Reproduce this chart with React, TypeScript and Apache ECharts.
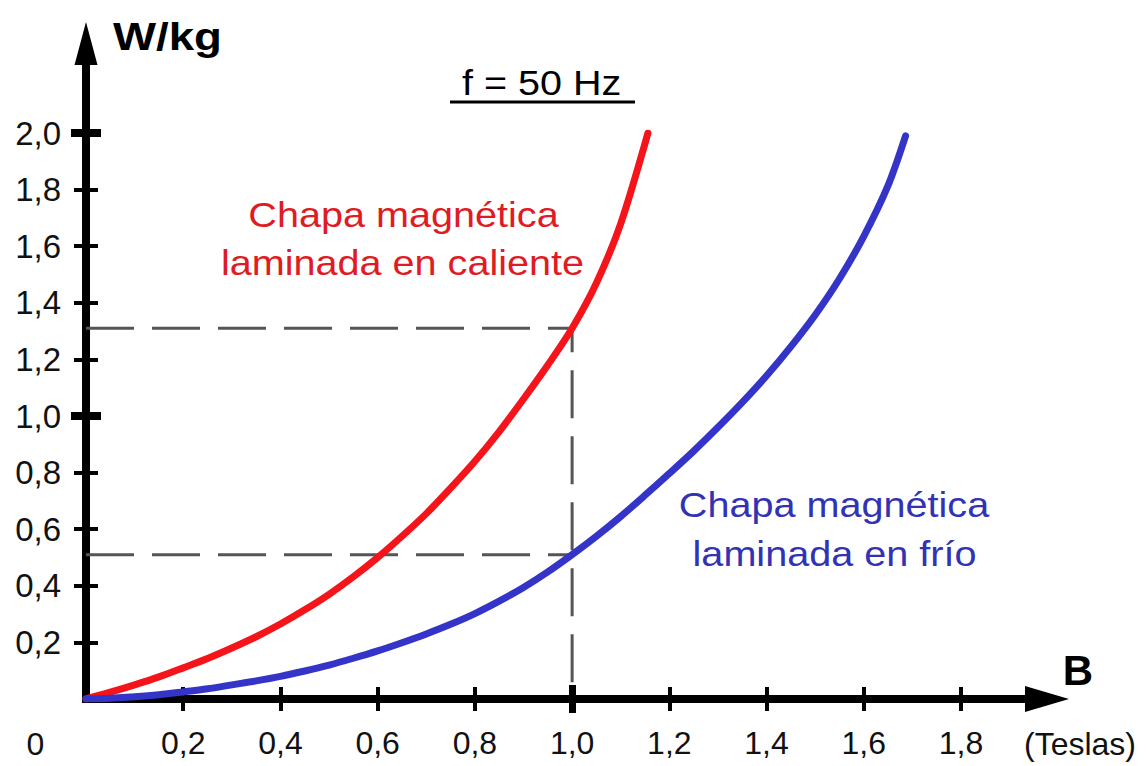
import React, { useEffect, useRef } from 'react';
import * as echarts from 'echarts';

// ---- data ----
const xTicks = [0.2, 0.4, 0.6, 0.8, 1.0, 1.2, 1.4, 1.6, 1.8];
const yTicks = [0.2, 0.4, 0.6, 0.8, 1.0, 1.2, 1.4, 1.6, 1.8, 2.0];
const majorX = [1.0];
const majorY = [1.0, 2.0];

// Chapa laminada en caliente (red)
const hotB = [0, 0.05, 0.1, 0.15, 0.2, 0.25, 0.3, 0.35, 0.4, 0.45, 0.5, 0.55, 0.6, 0.65, 0.7, 0.75, 0.8, 0.85, 0.9, 0.95, 1.0, 1.05, 1.1, 1.156];
const hotW = [0, 0.024, 0.05, 0.078, 0.11, 0.143, 0.18, 0.22, 0.265, 0.315, 0.37, 0.432, 0.5, 0.575, 0.655, 0.745, 0.84, 0.945, 1.06, 1.18, 1.31, 1.47, 1.68, 2.0];

// Chapa laminada en frío (blue)
const coldB = [0, 0.05, 0.1, 0.15, 0.2, 0.25, 0.3, 0.35, 0.4, 0.45, 0.5, 0.55, 0.6, 0.65, 0.7, 0.75, 0.8, 0.85, 0.9, 0.95, 1.0, 1.05, 1.1, 1.15, 1.2, 1.25, 1.3, 1.35, 1.4, 1.45, 1.5, 1.55, 1.6, 1.65, 1.686];
const coldW = [0, 0.003, 0.008, 0.015, 0.025, 0.036, 0.05, 0.064, 0.08, 0.099, 0.12, 0.144, 0.17, 0.199, 0.23, 0.264, 0.302, 0.346, 0.394, 0.449, 0.51, 0.575, 0.645, 0.72, 0.797, 0.876, 0.96, 1.048, 1.142, 1.245, 1.357, 1.485, 1.635, 1.815, 1.99];

// reference guide at B = 1,0 T
const guideB = 1.0;
const guideHotW = 1.31;
const guideColdW = 0.51;

const FONT = "'Liberation Sans', Arial, Helvetica, sans-serif";
const fmt = (v: number) => v.toFixed(1).replace('.', ',');

function txt(text: string, x: number, y: number, size: number, color: string, align: string, opts: any = {}) {
  return {
    type: 'text',
    x,
    y,
    scaleX: opts.scaleX ?? 1,
    silent: true,
    style: {
      text,
      fill: color,
      fontSize: size,
      fontWeight: opts.bold ? 'bold' : 'normal',
      fontFamily: FONT,
      align,
      textAlign: align,
      verticalAlign: 'middle',
      textVerticalAlign: 'middle',
    },
  };
}

export default function App() {
  const ref = useRef<HTMLDivElement>(null);
  useEffect(() => {
    if (!ref.current) return;
    const chart = echarts.init(ref.current, undefined, { renderer: 'svg' });
    const noAxis = { show: false };
    const option: any = {
      animation: false,
      backgroundColor: '#ffffff',
      grid: [
        { left: 86, top: 133, right: 185, bottom: 67 },
        { left: 86, top: 43.5, right: 99, bottom: 67 },
      ],
      xAxis: [
        {
          gridIndex: 0, type: 'value', position: 'bottom', min: 0, max: 1.8, interval: 0.2, offset: -12,
          axisLine: { show: false, onZero: false },
          axisTick: { show: true, customValues: xTicks, length: 24, lineStyle: { color: '#000', width: 4 } },
          axisLabel: { show: true, customValues: xTicks, formatter: fmt, margin: 40, fontSize: 32, color: '#111', fontFamily: FONT },
          splitLine: noAxis,
        },
        {
          gridIndex: 0, type: 'value', position: 'bottom', min: 0, max: 1.8, interval: 0.2, offset: -14,
          axisLine: { show: false, onZero: false },
          axisTick: { show: true, customValues: majorX, length: 28, lineStyle: { color: '#000', width: 7 } },
          axisLabel: noAxis, splitLine: noAxis,
        },
        {
          gridIndex: 1, type: 'value', position: 'bottom', min: 0, max: 1,
          axisLine: { show: true, onZero: false, symbol: ['none', 'triangle'], symbolSize: [26, 44], lineStyle: { color: '#000', width: 8, cap: 'square' } },
          axisTick: noAxis, axisLabel: noAxis, splitLine: noAxis,
        },
      ],
      yAxis: [
        {
          gridIndex: 0, type: 'value', position: 'left', min: 0, max: 2.0, interval: 0.2, offset: -12,
          axisLine: { show: false, onZero: false },
          axisTick: { show: true, customValues: yTicks, length: 24, lineStyle: { color: '#000', width: 4 } },
          axisLabel: { show: true, customValues: yTicks, formatter: fmt, margin: 37, fontSize: 33, color: '#111', fontFamily: FONT },
          splitLine: noAxis,
        },
        {
          gridIndex: 0, type: 'value', position: 'left', min: 0, max: 2.0, interval: 0.2, offset: -15,
          axisLine: { show: false, onZero: false },
          axisTick: { show: true, customValues: majorY, length: 30, lineStyle: { color: '#000', width: 8 } },
          axisLabel: noAxis, splitLine: noAxis,
        },
        {
          gridIndex: 1, type: 'value', position: 'left', min: 0, max: 1,
          axisLine: { show: true, onZero: false, symbol: ['none', 'triangle'], symbolSize: [23, 43], lineStyle: { color: '#000', width: 8, cap: 'square' } },
          axisTick: noAxis, axisLabel: noAxis, splitLine: noAxis,
        },
      ],
      series: [
        {
          type: 'line', xAxisIndex: 0, yAxisIndex: 0, symbol: 'none', silent: true, z: 1,
          data: [[0, guideHotW], [guideB, guideHotW], [guideB, 0]],
          lineStyle: { color: '#555', width: 3, type: [48, 18] },
        },
        {
          type: 'line', xAxisIndex: 0, yAxisIndex: 0, symbol: 'none', silent: true, z: 1,
          data: [[0, guideColdW], [guideB, guideColdW]],
          lineStyle: { color: '#555', width: 3, type: [48, 18] },
        },
        {
          name: 'Chapa magnética laminada en caliente',
          type: 'line', xAxisIndex: 0, yAxisIndex: 0, symbol: 'none', smooth: 0.3, z: 3,
          data: hotB.map((b, i) => [b, hotW[i]]),
          lineStyle: { color: '#f5141a', width: 7, cap: 'round', join: 'round' },
        },
        {
          name: 'Chapa magnética laminada en frío',
          type: 'line', xAxisIndex: 0, yAxisIndex: 0, symbol: 'none', smooth: 0.3, z: 3,
          data: coldB.map((b, i) => [b, coldW[i]]),
          lineStyle: { color: '#3434c8', width: 7, cap: 'round', join: 'round' },
        },
      ],
      graphic: [
        txt('W/kg', 113, 36.5, 38, '#000', 'left', { bold: true, scaleX: 1.2 }),
        txt('f = 50 Hz', 462, 83, 35, '#000', 'left', { scaleX: 1.13 }),
        {
          type: 'line', silent: true,
          shape: { x1: 450, y1: 102, x2: 635, y2: 102 },
          style: { stroke: '#000', lineWidth: 3 },
        },
        txt('Chapa magnética', 403.5, 214.5, 36, '#e01b24', 'center', { scaleX: 1.1 }),
        txt('laminada en caliente', 402.5, 262.5, 36, '#e01b24', 'center', { scaleX: 1.1 }),
        txt('Chapa magnética', 834, 504.5, 36, '#3232b4', 'center', { scaleX: 1.1 }),
        txt('laminada en frío', 834.5, 553.5, 36, '#3232b4', 'center', { scaleX: 1.1 }),
        txt('B', 1078, 670, 42, '#000', 'center', { bold: true }),
        txt('(Teslas)', 1024, 744, 32, '#111', 'left'),
        txt('0', 35.5, 744, 32, '#111', 'center'),
      ],
    };
    chart.setOption(option);
    return () => chart.dispose();
  }, []);
  return (
    <div
      ref={ref}
      style={{ position: 'absolute', left: 0, top: 0, width: 1146, height: 766, background: '#fff' }}
    />
  );
}
